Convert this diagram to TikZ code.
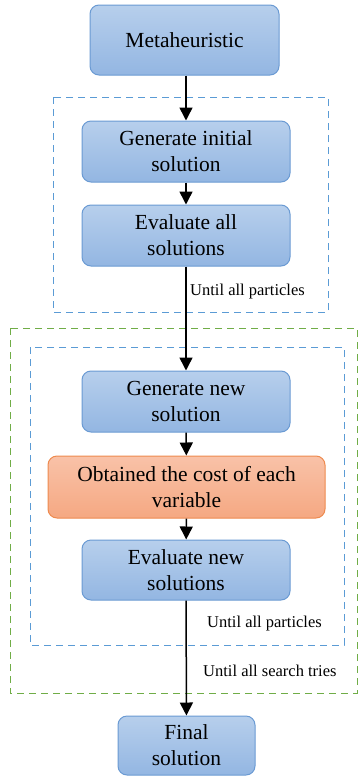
\documentclass[tikz,border=0pt]{standalone}
\usepackage{fontspec}
\setmainfont{Liberation Serif}
\usetikzlibrary{arrows.meta}
\definecolor{bfillT}{HTML}{B7CFEC}
\definecolor{bfillB}{HTML}{93B6E2}
\definecolor{bdraw}{HTML}{6A9AD3}
\definecolor{ofillT}{HTML}{F9C2A8}
\definecolor{ofillB}{HTML}{F5A882}
\definecolor{odraw}{HTML}{EE8A4E}
\definecolor{dblue}{HTML}{5B9BD5}
\definecolor{dgreen}{HTML}{70AD47}
\tikzset{
  bluebox/.style={draw=bdraw, line width=1pt, rounded corners=9pt, top color=bfillT, bottom color=bfillB, align=center, font=\fontsize{21.5}{26}\selectfont, inner sep=0pt},
  orangebox/.style={draw=odraw, line width=1pt, rounded corners=9pt, top color=ofillT, bottom color=ofillB, align=center, font=\fontsize{21.5}{26}\selectfont, inner sep=0pt},
  conn/.style={line width=1.5pt, -{Triangle[length=13pt,width=13pt]}},
  bluedash/.style={draw=dblue, line width=1pt, dash pattern=on 7pt off 5pt},
  greendash/.style={draw=dgreen, line width=1pt, dash pattern=on 7pt off 5pt},
  lbl/.style={font=\fontsize{16.5}{18}\selectfont, anchor=west, inner sep=0pt}
}
\begin{document}
\begin{tikzpicture}[x=1pt,y=-1pt]
\useasboundingbox (0,0) rectangle (361,779);
% dashed frames
\draw[bluedash] (53,97) rectangle (328,312);
\draw[greendash] (10,328) rectangle (357,693);
\draw[bluedash] (30,347) rectangle (344,645);
% boxes
\node[bluebox, minimum width=189pt, minimum height=70pt] (meta) at (184.5,40) {Metaheuristic};
\node[bluebox, minimum width=208pt, minimum height=61pt] (gen) at (186,151.5) {Generate initial\\solution};
\node[bluebox, minimum width=208pt, minimum height=61pt] (eval) at (186,235.5) {Evaluate all\\solutions};
\node[bluebox, minimum width=208pt, minimum height=61pt] (gennew) at (186,401.5) {Generate new\\solution};
\node[orangebox, minimum width=277pt, minimum height=62pt] (cost) at (186.5,487) {Obtained the cost of each\\variable};
\node[bluebox, minimum width=208pt, minimum height=60pt] (evalnew) at (186,570) {Evaluate new\\solutions};
\node[bluebox, minimum width=137pt, minimum height=59pt] (final) at (186.5,745.5) {Final\\solution};
% labels
\node[lbl] (l1) at (190,292) {Until all particles};
\node[lbl] (l2) at (207,624) {Until all particles};
\node[lbl] (l3) at (203,671) {Until all search tries};
% connectors
\draw[conn] (meta.south -| 186,0) -- (gen.north);
\draw[conn] (gen) -- (eval);
\draw[conn] (eval) -- (gennew);
\draw[conn] (gennew) -- (cost);
\draw[conn] (cost) -- (evalnew);
\draw[conn] (evalnew) -- (final);
\end{tikzpicture}
\end{document}
